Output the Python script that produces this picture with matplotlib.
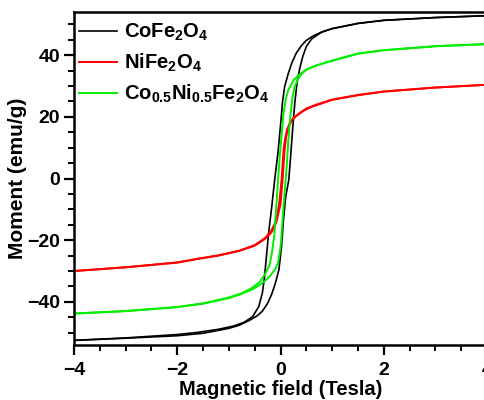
import matplotlib
matplotlib.use("Agg")
import matplotlib.pyplot as plt
from matplotlib.ticker import MultipleLocator

# CoFe2O4 loop, descending branch (+4 -> -4) and ascending branch (-4 -> +4)
co_down_field = [4.0, 3.0, 2.0, 1.5, 1.0, 0.8, 0.65, 0.5, 0.4, 0.3, 0.22, 0.15, 0.08, 0.04, 0.01,
                 -0.05, -0.11, -0.17, -0.23, -0.28, -0.31, -0.35, -0.42, -0.54, -0.7, -0.9,
                 -1.2, -1.6, -2.0, -3.0, -4.0]
co_down_moment = [52.8, 52.2, 51.3, 50.3, 48.6, 47.5, 46.4, 44.8, 43.0, 40.5, 37.5, 34.0, 29.8, 25.0, 19.0,
                  8.2, 0.0, -9.2, -17.7, -26.5, -32.0, -37.0, -41.5, -44.8, -46.6, -47.8,
                  -48.9, -49.9, -50.6, -51.7, -52.5]
co_up_field = [-4.0, -3.0, -2.0, -1.5, -1.0, -0.8, -0.6, -0.45, -0.35, -0.25, -0.17, -0.1, -0.03, 0.02,
               0.06, 0.1, 0.16, 0.2, 0.24, 0.28, 0.32, 0.37, 0.43, 0.5, 0.6, 0.7, 0.8, 1.0,
               1.5, 2.0, 3.0, 4.0]
co_up_moment = [-52.5, -51.8, -51.0, -50.2, -48.6, -47.6, -46.0, -44.5, -43.0, -40.5, -37.5, -34.0, -29.5, -22.0,
                -13.0, -6.0, -0.5, 8.0, 17.0, 25.0, 31.0, 35.5, 39.5, 42.8, 45.2, 46.4, 47.5, 48.6,
                50.3, 51.3, 52.2, 52.8]

# NiFe2O4 loop
ni_down_field = [4.0, 3.0, 2.0, 1.5, 1.0, 0.7, 0.5, 0.35, 0.25, 0.18, 0.13, 0.09, 0.06, 0.04,
                 0.02, 0.0, -0.03, -0.07, -0.12, -0.18, -0.3, -0.5, -0.8, -1.2, -1.6,
                 -2.0, -3.0, -4.0]
ni_down_moment = [30.4, 29.5, 28.2, 27.1, 25.6, 24.0, 22.7, 21.0, 19.6, 18.0, 16.0, 13.0, 9.5, 4.5,
                  -0.5, -4.0, -8.6, -12.5, -15.0, -17.0, -19.3, -21.6, -23.4, -24.9, -26.0,
                  -27.2, -28.8, -30.0]
ni_up_field = [-4.0, -3.0, -2.0, -1.6, -1.2, -0.8, -0.5, -0.3, -0.18, -0.12, -0.07, -0.03, 0.0, 0.02,
               0.04, 0.06, 0.08, 0.11, 0.16, 0.22, 0.3, 0.45, 0.6, 1.0, 1.5, 2.0, 3.0, 4.0]
ni_up_moment = [-30.0, -28.8, -27.3, -26.1, -25.0, -23.5, -21.8, -19.6, -17.6, -16.0, -13.5, -10.5, -8.6, -4.5,
                -0.5, 4.5, 9.3, 13.6, 16.8, 18.8, 20.2, 22.0, 23.2, 25.5, 27.0, 28.2, 29.5, 30.4]

# Co0.5Ni0.5Fe2O4 loop
mix_down_field = [4.0, 3.0, 2.0, 1.5, 1.0, 0.7, 0.5, 0.35, 0.25, 0.15, 0.1, 0.05, 0.02, -0.01,
                  -0.045, -0.08, -0.12, -0.17, -0.21, -0.3, -0.4, -0.55, -0.75, -1.0, -1.5,
                  -2.0, -3.0, -4.0]
mix_down_moment = [43.6, 42.9, 41.6, 40.5, 38.2, 36.7, 35.3, 33.5, 31.8, 28.7, 25.5, 20.0, 14.0, 8.0,
                   0.0, -8.6, -18.5, -24.5, -28.0, -31.0, -33.5, -35.5, -37.2, -38.6, -40.5,
                   -41.7, -43.0, -43.8]
mix_up_field = [-4.0, -3.0, -2.0, -1.5, -1.0, -0.75, -0.55, -0.4, -0.3, -0.2, -0.1, -0.05, -0.01, 0.01,
                0.05, 0.09, 0.12, 0.15, 0.19, 0.23, 0.27, 0.33, 0.4, 0.5, 0.7, 1.0, 1.5, 2.0,
                3.0, 4.0]
mix_up_moment = [-43.8, -43.0, -41.7, -40.6, -38.8, -37.4, -36.0, -34.5, -33.2, -31.6, -29.3, -27.5, -23.5, -20.5,
                 -11.0, -2.5, 4.0, 12.0, 20.0, 26.0, 29.5, 32.0, 33.8, 35.3, 36.7, 38.2, 40.5, 41.6,
                 42.9, 43.6]

legend_labels = ["CoFe$_2$O$_4$", "NiFe$_2$O$_4$", "Co$_{0.5}$Ni$_{0.5}$Fe$_2$O$_4$"]

plt.rcParams["font.family"] = "Liberation Sans"
plt.rcParams["font.weight"] = "bold"
plt.rcParams["mathtext.default"] = "regular"

fig = plt.figure(figsize=(4.85, 4.0), dpi=100)
ax = fig.add_axes([74 / 485, 55 / 400, 413 / 485, 333 / 400])

ax.plot(co_down_field, co_down_moment, color="black", lw=1.2, label=legend_labels[0])
ax.plot(co_up_field, co_up_moment, color="black", lw=1.2)
ax.plot(ni_down_field, ni_down_moment, color="#ff0000", lw=1.4, label=legend_labels[1])
ax.plot(ni_up_field, ni_up_moment, color="#ff0000", lw=1.4)
ax.plot(mix_down_field, mix_down_moment, color="#00ee00", lw=1.4, label=legend_labels[2])
ax.plot(mix_up_field, mix_up_moment, color="#00ee00", lw=1.4)

ax.set_xlim(-4, 4)
ax.set_ylim(-54, 54)
ax.xaxis.set_major_locator(MultipleLocator(2))
ax.xaxis.set_minor_locator(MultipleLocator(0.5))
ax.yaxis.set_major_locator(MultipleLocator(20))
ax.yaxis.set_minor_locator(MultipleLocator(5))
ax.tick_params(which="major", direction="out", length=7, width=1.6, labelsize=14, pad=3)
ax.tick_params(axis="x", which="major", pad=5)
ax.tick_params(which="minor", direction="out", length=4, width=1.4)
for spine in ax.spines.values():
    spine.set_linewidth(1.8)

ax.set_xlabel("Magnetic field (Tesla)", fontsize=14.5, fontweight="bold", labelpad=1)
ax.set_ylabel("Moment (emu/g)", fontsize=15, fontweight="bold", labelpad=0)

ax.legend(loc="upper left", bbox_to_anchor=(-0.008, 0.995), frameon=False, fontsize=14.5,
          handlelength=1.9, handletextpad=0.35, labelspacing=0.43, borderaxespad=0.15, borderpad=0.25)

fig.savefig("out.png", dpi=100)
